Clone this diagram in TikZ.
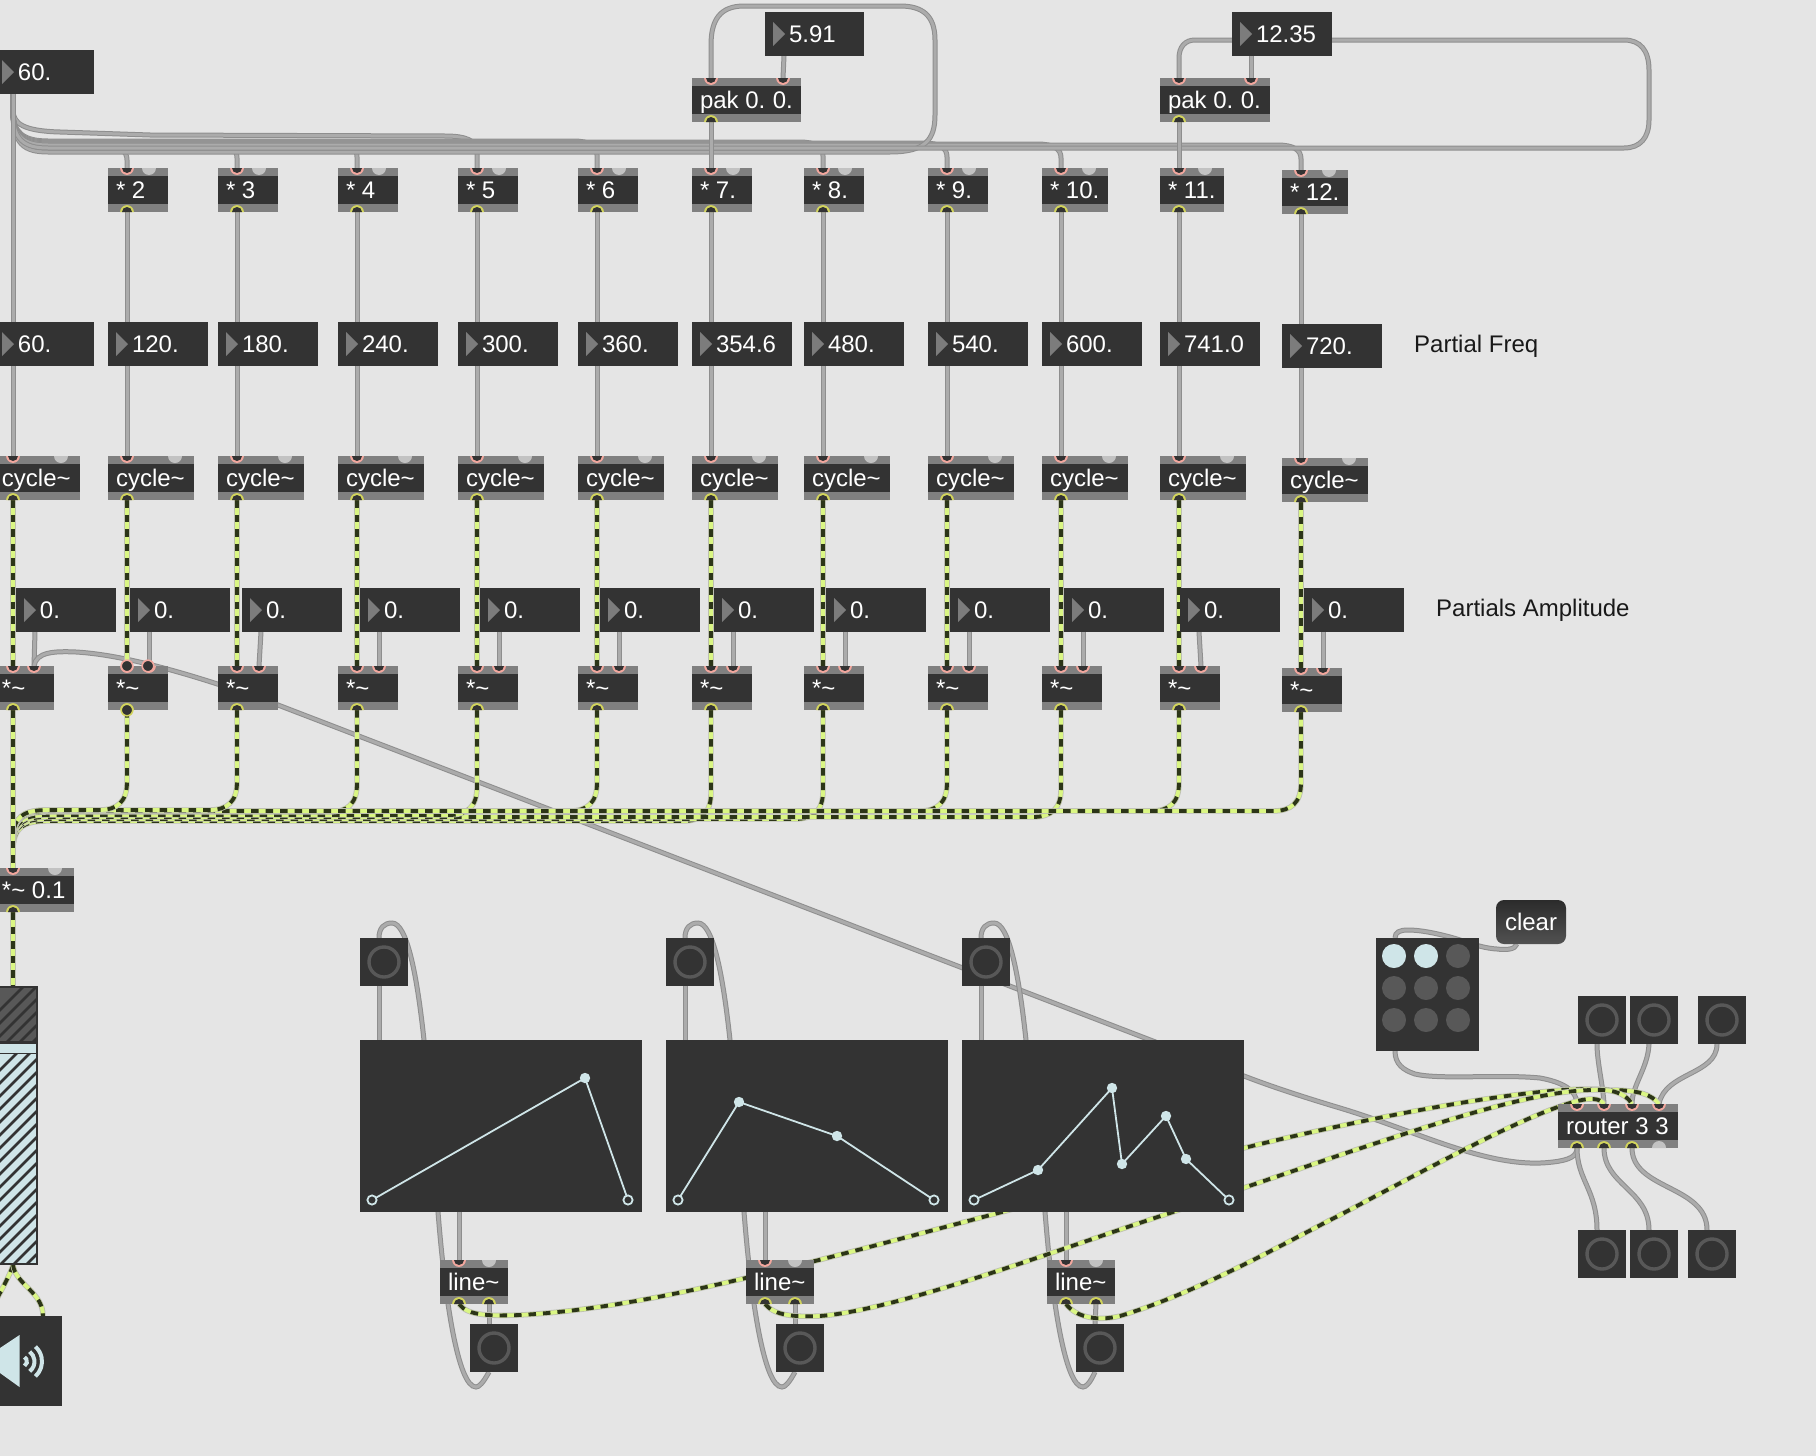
\documentclass[tikz,border=0pt]{standalone}
\usepackage{fontspec}
\setmainfont{Liberation Sans}
\definecolor{pagebg}{HTML}{E5E5E5}
\definecolor{boxc}{HTML}{333333}
\definecolor{stripc}{HTML}{808080}
\definecolor{pinkc}{HTML}{F2A79E}
\definecolor{yelc}{HTML}{D2D45C}
\definecolor{dummyc}{HTML}{C2C2C2}
\definecolor{cordA}{HTML}{8E8E8E}
\definecolor{cordB}{HTML}{ABABAB}
\definecolor{sigY}{HTML}{DAF684}
\definecolor{sigD}{HTML}{2C3518}
\definecolor{sigE}{HTML}{BDBFB2}
\definecolor{lightc}{HTML}{CFE5E8}
\definecolor{ringc}{HTML}{585858}
\definecolor{triC}{HTML}{7C7C7C}
\pgfdeclarelayer{bglayer}
\pgfdeclarelayer{cords}
\pgfsetlayers{bglayer,cords,main}
\tikzset{
  every node/.style={font=\fontsize{24}{28}\selectfont},
  mbox/.style={fill=boxc,text=white,inner sep=0pt,outer sep=0pt,anchor=north west,minimum height=44pt,text height=18pt,text depth=2pt},
  strip/.style={fill=stripc},
  cord/.style={draw=cordB,line width=3pt,line cap=round,preaction={draw=cordA,line width=5pt}},
  sig/.style={draw=sigD,line width=3.8pt,dash pattern=on 7.5pt off 7pt,preaction={draw=sigE,line width=5.4pt,solid},preaction={draw=sigY,line width=3.8pt,solid}},
  label text/.style={text=black!90,inner sep=0pt,anchor=base west},
  fnline/.style={draw=lightc,line width=1.8pt},
  fnpt/.style={fill=lightc},
}
% half-disc ports
\newcommand{\portin}[2]{\fill[pinkc] (#1,#2) ++(-6.9pt,0pt) arc (180:360:6.9pt) -- cycle;
  \fill[boxc] (#1,#2) ++(-5pt,0pt) arc (180:360:5pt) -- cycle;}
\newcommand{\portout}[2]{\fill[yelc] (#1,#2) ++(-6.9pt,0pt) arc (180:0:6.9pt) -- cycle;
  \fill[boxc] (#1,#2) ++(-5pt,0pt) arc (180:0:5pt) -- cycle;}
\newcommand{\dumin}[2]{\fill[dummyc] (#1,#2) ++(-7pt,0pt) arc (180:360:7pt) -- cycle;}
\newcommand{\dumout}[2]{\fill[dummyc] (#1,#2) ++(-7pt,0pt) arc (180:0:7pt) -- cycle;}
% object box: name,x,y,w,text,inlet xs,outlet xs
\newcommand{\mobj}[7]{%
  \node[mbox] (#1) at (#2,#3) {\makebox[#4pt][l]{\hspace*{8pt}#5}};
  \fill[strip] (#2,#3) rectangle ++(#4,8);
  \fill[strip] (#2,#3+36) rectangle ++(#4,8);
  \foreach \ix [count=\k] in {#6} {\coordinate (#1i\k) at (\ix,#3); \portin{\ix}{#3}}
  \pgfmathsetmacro{\ybot}{#3+44}
  \foreach \ix [count=\k] in {#7} {\coordinate (#1o\k) at (\ix,\ybot); \portout{\ix}{\ybot}}
}
% number box: name,x,y,w,text
\newcommand{\nbox}[5]{%
  \node[mbox] (#1) at (#2,#3) {\makebox[#4pt][l]{\hspace*{24pt}#5}};
  \fill[triC] (#2+8,#3+10) -- (#2+20,#3+22) -- (#2+8,#3+34) -- cycle;
  \coordinate (#1i) at (#2+19,#3);
  \coordinate (#1o) at (#2+19,#3+44);
}
% button: name,x,y
\newcommand{\btn}[3]{%
  \node[fill=boxc,inner sep=0pt,outer sep=0pt,minimum size=48pt,anchor=north west] (#1) at (#2,#3) {};
  \draw[ringc,line width=3.4pt] (#1.center) circle (15pt);
  \coordinate (#1i) at (#2+19,#3);
  \coordinate (#1o) at (#2+19,#3+48);
}
% function box: name,x
\newcommand{\fnbox}[2]{%
  \node[fill=boxc,inner sep=0pt,outer sep=0pt,minimum width=282pt,minimum height=172pt,anchor=north west] (#1) at (#2,1040) {};
}
\newcommand{\fnhollow}[2]{\filldraw[fill=boxc,draw=lightc,line width=1.8pt] (#1,#2) circle (4.6pt);}
\newcommand{\fnsolid}[2]{\fill[fnpt] (#1,#2) circle (5.2pt);}
% horizontal cord bus from the 60. box
\newcommand{\buscord}[4]{%
  \draw[cord] (#1) -- (13,112) .. controls (13,#4-8) and (24,#4) .. (48,#4) -- (#3-24,#4)
     .. controls (#3-7,#4) and (#3,#4+5) .. (#3,#4+14) -- (#2);
}
% signal bus to *~ 0.1
\newcommand{\sigbus}[4]{%
  \draw[sig] (#1) -- (#3,#4-28) .. controls (#3,#4-8) and (#3-10,#4) .. (#3-28,#4) -- (48,#4)
     .. controls (24,#4) and (13,#4+6) .. (13,#4+30) -- (#2);
}
% loop cord around an envelope
\newcommand{\loopcord}[4]{%
  \draw[cord] (#1) .. controls (#4+483,1383) and (#4+479,1387) .. (#4+476,1387)
     .. controls (#4+458,1387) and (#4+445,1300) .. (#4+438,1212)
     -- (#3+424,1040) .. controls (#3+417,975) and (#3+407,923) .. (#3+392,923)
     .. controls (#3+384,923) and (#3+379,928) .. (#2);
}
\begin{document}
\begin{tikzpicture}[x=1pt,y=-1pt]
\useasboundingbox (0,0) rectangle (1816,1456);
\begin{pgfonlayer}{bglayer}
  \fill[pagebg] (0,0) rectangle (1816,1456);
\end{pgfonlayer}

% first column
\nbox{nsrc}{-6}{50}{100}{60.}
\nbox{nfirst}{-6}{322}{100}{60.}
\mobj{cyz}{-6}{456}{86}{cycle\textasciitilde}{13}{13}
\dumin{61}{456}
\mobj{amz}{-6}{666}{60}{*\textasciitilde}{13,34}{13}
\mobj{master}{-6}{868}{80}{*\textasciitilde{} 0.1}{13}{13}
\dumin{55}{868}

% regular columns
\foreach \c/\L/\mt/\mw/\num/\dy/\A in {
  a/108/* 2/60/120./0/130,
  b/218/* 3/60/180./0/242,
  c/338/* 4/60/240./0/360,
  d/458/* 5/60/300./0/480,
  e/578/* 6/60/360./0/600,
  f/692/* 7./60/354.6/0/714,
  g/804/* 8./60/480./0/826,
  h/928/* 9./60/540./0/950,
  i/1042/* 10./66/600./0/1064,
  j/1160/* 11./64/741.0/0/1180,
  k/1282/* 12./66/720./2/1304}{
  \pgfmathtruncatemacro{\xin}{\L+19}
  \pgfmathtruncatemacro{\xdm}{\L+\mw-19}
  \pgfmathtruncatemacro{\xcy}{\L+86-19}
  \pgfmathtruncatemacro{\xam}{\L+41}
  \pgfmathtruncatemacro{\ym}{168+\dy}
  \pgfmathtruncatemacro{\yn}{322+\dy}
  \pgfmathtruncatemacro{\yc}{456+\dy}
  \pgfmathtruncatemacro{\ya}{666+\dy}
  \mobj{m\c}{\L}{\ym}{\mw}{\mt}{\xin}{\xin}
  \dumin{\xdm}{\ym}
  \nbox{n\c}{\L}{\yn}{100}{\num}
  \mobj{y\c}{\L}{\yc}{86}{cycle\textasciitilde}{\xin}{\xin}
  \dumin{\xcy}{\yc}
  \nbox{p\c}{\A}{588}{100}{0.}
  \mobj{t\c}{\L}{\ya}{60}{*\textasciitilde}{\xin,\xam}{\xin}
}
\nbox{pz}{16}{588}{100}{0.}

% selected *~ box: enlarged ports
\filldraw[fill=boxc,draw=pinkc,line width=1.6pt] (127,666) circle (5.8pt);
\filldraw[fill=boxc,draw=pinkc,line width=1.6pt] (148,666) circle (5.8pt);
\filldraw[fill=boxc,draw=yelc,line width=1.6pt] (127,710) circle (5.8pt);

% pak
\nbox{nfa}{765}{12}{99}{5.91}
\nbox{nfb}{1232}{12}{100}{12.35}
\mobj{paka}{692}{78}{109}{pak 0.\hspace{-1.5pt} 0.}{711,783}{711}
\mobj{pakb}{1160}{78}{110}{pak 0.\hspace{-1.5pt} 0.}{1179,1251}{1179}

% text labels
\node[label text] (lblfreq) at (1414,352) {Partial Freq};
\node[label text] (lblamp) at (1436,616) {Partials Amplitude};

% gain slider
\begin{scope}
  \clip (-6,986) rectangle (38,1265);
  \fill[boxc] (-6,986) rectangle (38,1265);
  \fill[ringc] (-6,988) rectangle (36,1041);
  \fill[lightc] (-6,1044) rectangle (36,1053);
  \fill[lightc] (-6,1054) rectangle (36,1263);
  \begin{scope}
    \clip (-6,988) rectangle (36,1041);
    \foreach \s in {980,993,...,1100} {\draw[boxc,line width=2.6pt] (-10,\s+40) -- (40,\s-10);}
  \end{scope}
  \begin{scope}
    \clip (-6,1054) rectangle (36,1263);
    \foreach \s in {1040,1053,...,1320} {\draw[boxc,line width=2.6pt] (-10,\s+40) -- (40,\s-10);}
  \end{scope}
\end{scope}
\node[inner sep=0pt,outer sep=0pt,minimum width=44pt,minimum height=279pt,anchor=north west] (gain) at (-6,986) {};
\coordinate (gaini) at (13,986);
\coordinate (gaino) at (13,1265);

% speaker
\node[fill=boxc,inner sep=0pt,outer sep=0pt,minimum width=68pt,minimum height=90pt,anchor=north west] (dac) at (-6,1316) {};
\coordinate (dacl) at (-12,1316);
\coordinate (dacr) at (43,1316);
\fill[lightc] (-6,1345) -- (0,1348) -- (19.5,1335) -- (19.5,1387) -- (0,1373) -- (-6,1373) -- cycle;
\foreach \r/\ang in {5/60,12.5/52,20/48} {
  \draw[lightc,line width=4pt] (22,1361.5) ++(-\ang:\r pt) arc (-\ang:\ang:\r pt);
}

% envelopes
\btn{ba}{360}{938}
\btn{bb}{666}{938}
\btn{bc}{962}{938}
\fnbox{fa}{360}
\fnbox{fb}{666}
\fnbox{fc}{962}
\coordinate (fai) at (379,1040);
\coordinate (fbi) at (685,1040);
\coordinate (fci) at (981,1040);
\coordinate (fao) at (459,1212);
\coordinate (fbo) at (765,1212);
\coordinate (fco) at (1066,1212);

\draw[fnline] (372,1200) -- (585,1078) -- (628,1200);
\fnhollow{372}{1200}\fnsolid{585}{1078}\fnhollow{628}{1200}
\draw[fnline] (678,1200) -- (739,1102) -- (837,1136) -- (934,1200);
\fnhollow{678}{1200}\fnsolid{739}{1102}\fnsolid{837}{1136}\fnhollow{934}{1200}
\draw[fnline] (974,1200) -- (1038,1170) -- (1112,1088) -- (1122,1164) -- (1166,1116) -- (1186,1159) -- (1229,1200);
\fnhollow{974}{1200}\fnsolid{1038}{1170}\fnsolid{1112}{1088}\fnsolid{1122}{1164}\fnsolid{1166}{1116}\fnsolid{1186}{1159}\fnhollow{1229}{1200}

\mobj{la}{440}{1260}{68}{line\textasciitilde}{459}{459,489}
\dumin{489}{1260}
\mobj{lb}{746}{1260}{68}{line\textasciitilde}{765}{765,795}
\dumin{795}{1260}
\mobj{lc}{1047}{1260}{68}{line\textasciitilde}{1066}{1066,1096}
\dumin{1096}{1260}
\btn{ca}{470}{1324}
\btn{cb}{776}{1324}
\btn{cc}{1076}{1324}

% matrix
\node[fill=boxc,inner sep=0pt,outer sep=0pt,minimum width=103pt,minimum height=113pt,anchor=north west] (mx) at (1376,938) {};
\foreach \yy in {956,988,1020} {\foreach \xx in {1394,1426,1458} {
  \fill[ringc] (\xx,\yy) circle (12pt);
}}
\fill[lightc] (1394,956) circle (12pt);
\fill[lightc] (1426,956) circle (12pt);
\coordinate (mxi) at (1395,938);
\coordinate (mxo) at (1395,1051);
\node[rounded corners=8pt,top color=boxc!85!black,bottom color=boxc!85!white,text=white,inner sep=0pt,outer sep=0pt,minimum width=70pt,minimum height=44pt,text height=18pt,text depth=2pt] (clr) at (1531,922) {clear};
\coordinate (clro) at (1517,944);

% router
\mobj{rt}{1558}{1104}{120}{router 3 3}{1577,1604,1632,1659}{1577,1604,1632}
\dumout{1659}{1148}
\btn{ra}{1578}{996}
\btn{rb}{1630}{996}
\btn{rc}{1698}{996}
\btn{sa}{1578}{1230}
\btn{sb}{1630}{1230}
\btn{sc}{1688}{1230}

% ---------- cords ----------
\begin{pgfonlayer}{cords}
  % control bus
  \buscord{nsrco}{mai1}{127}{146}
  \buscord{nsrco}{mbi1}{237}{144}
  \buscord{nsrco}{mci1}{357}{143}
  \draw[cord] (nsrco) -- (13,110) .. controls (13,124) and (24,131) .. (60,132) -- (150,135) -- (445,136)
    .. controls (465,136) and (477,140) .. (477,152) -- (mdi1);
  \buscord{nsrco}{mei1}{597}{141}
  \buscord{nsrco}{mgi1}{823}{142}
  \buscord{nsrco}{mhi1}{947}{143}
  \buscord{nsrco}{mii1}{1061}{144}
  \buscord{nsrco}{mki1}{1301}{145}
  \draw[cord] (nsrco) -- (13,112) .. controls (13,144) and (24,152) .. (48,152) -- (890,152)
    .. controls (925,152) and (935,140) .. (935,115) -- (935,40)
    .. controls (935,15) and (922,6) .. (900,6) -- (744,6)
    .. controls (720,6) and (711,20) .. (711,45) -- (pakai1);
  \draw[cord] (nsrco) -- (13,112) .. controls (13,140) and (24,148) .. (48,148) -- (1624,148)
    .. controls (1640,148) and (1649,138) .. (1649,120) -- (1649,70)
    .. controls (1649,50) and (1640,40) .. (1624,40) -- (1195,40)
    .. controls (1185,40) and (1179,47) .. (1179,58) -- (pakbi1);
  \draw[cord] (nfao) -- (pakai2);
  \draw[cord] (nfbo) -- (pakbi2);
  \draw[cord] (pakao1) -- (mfi1);
  \draw[cord] (pakbo1) -- (mji1);
  \draw[cord] (nsrco) -- (nfirsti);
  \draw[cord] (nfirsto) -- (cyzi1);
  \draw[cord] (pzo) -- (amzi2);
  \foreach \c in {a,b,c,d,e,f,g,h,i,j,k} {
    \draw[cord] (m\c o1) -- (n\c i);
    \draw[cord] (n\c o) -- (y\c i1);
    \draw[cord] (p\c o) -- (t\c i2);
  }
  % long diagonal
  \draw[cord] (amzi2) .. controls (36,652) and (54,651) .. (76,652) .. controls (130,655) and (210,680) .. (278,705)
    -- (1244,1076) .. controls (1275,1088) and (1310,1099) .. (1340,1108)
    .. controls (1420,1132) and (1490,1170) .. (1553,1162) .. controls (1570,1160) and (1577,1156) .. (rto1);
  % envelope cords
  \draw[cord] (bao) -- (fai);
  \draw[cord] (bbo) -- (fbi);
  \draw[cord] (bco) -- (fci);
  \draw[cord] (fao) -- (lai1);
  \draw[cord] (fbo) -- (lbi1);
  \draw[cord] (fco) -- (lci1);
  \draw[cord] (lao2) -- (cai);
  \draw[cord] (lbo2) -- (cbi);
  \draw[cord] (lco2) -- (cci);
  \loopcord{cao}{bai}{0}{0}
  \loopcord{cbo}{bbi}{306}{306}
  \loopcord{cco}{bci}{602}{607}
  % matrix / clear
  \draw[cord] (clro) .. controls (1515,950) and (1505,950) .. (1497,949) .. controls (1480,948) and (1465,941) .. (1450,937)
    .. controls (1435,933) and (1420,930) .. (1408,930) .. controls (1400,930) and (1395,932) .. (mxi);
  \draw[cord] (mxo) .. controls (1395,1064) and (1403,1070) .. (1415,1074) .. controls (1440,1080) and (1500,1074) .. (1540,1078)
    .. controls (1562,1082) and (1577,1090) .. (rti1);
  % router inlets and outlets
  \draw[cord] (rao) .. controls (1597,1062) and (1603,1085) .. (rti2);
  \draw[cord] (rbo) .. controls (1648,1068) and (1632,1085) .. (rti3);
  \draw[cord] (rco) .. controls (1717,1075) and (1665,1072) .. (rti4);
  \draw[cord] (rto1) .. controls (1577,1180) and (1597,1190) .. (sai);
  \draw[cord] (rto2) .. controls (1604,1185) and (1649,1190) .. (sbi);
  \draw[cord] (rto3) .. controls (1632,1190) and (1707,1185) .. (sci);
  % signals
  \draw[sig] (cyzo1) -- (amzi1);
  \foreach \c in {a,b,c,d,e,f,g,h,i,j,k} {
    \draw[sig] (y\c o1) -- (t\c i1);
  }
  \sigbus{tfo1}{masteri1}{711}{821}
  \sigbus{tgo1}{masteri1}{823}{819}
  \sigbus{tio1}{masteri1}{1061}{817}
  \sigbus{tdo1}{masteri1}{477}{815}
  \sigbus{tco1}{masteri1}{357}{812}
  \sigbus{teo1}{masteri1}{597}{811}
  \sigbus{tho1}{masteri1}{947}{811}
  \sigbus{tjo1}{masteri1}{1179}{811}
  \sigbus{tko1}{masteri1}{1301}{811}
  \sigbus{tbo1}{masteri1}{237}{810}
  \sigbus{tao1}{masteri1}{127}{810}
  \draw[sig] (amzo1) -- (masteri1);
  \draw[sig] (mastero1) -- (gaini);
  \draw[sig] (gaino) .. controls (10,1275) and (4,1285) .. (dacl);
  \draw[sig] (gaino) .. controls (16,1285) and (43,1292) .. (dacr);
  % line~ to router
  \draw[sig] (lao1) .. controls (468,1316) and (490,1316) .. (520,1315)
    .. controls (650,1308) and (800,1265) .. (1002,1212) -- (1244,1148)
    .. controls (1340,1124) and (1540,1082) .. (1610,1090)
    .. controls (1640,1090) and (1652,1095) .. (rti4);
  \draw[sig] (lbo1) .. controls (775,1316) and (795,1317) .. (820,1316)
    .. controls (900,1310) and (1070,1245) .. (1170,1213) -- (1340,1155)
    .. controls (1440,1122) and (1530,1092) .. (1590,1090)
    .. controls (1610,1089) and (1625,1092) .. (rti3);
  \draw[sig] (lco1) .. controls (1075,1316) and (1095,1322) .. (1120,1316)
    .. controls (1200,1292) and (1290,1240) .. (1340,1215)
    .. controls (1440,1162) and (1520,1118) .. (1570,1103)
    .. controls (1590,1097) and (1600,1098) .. (rti2);
\end{pgfonlayer}
\end{tikzpicture}
\end{document}
